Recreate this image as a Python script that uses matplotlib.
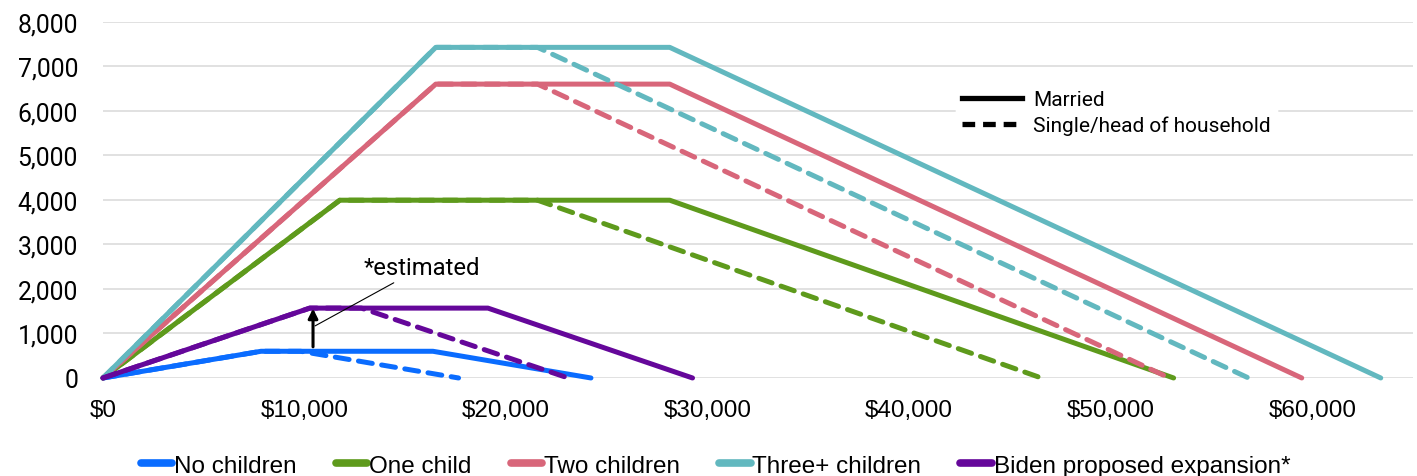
import matplotlib.pyplot as plt
from matplotlib.lines import Line2D
from matplotlib.ticker import FuncFormatter, MultipleLocator

# EITC schedules: (income, credit) breakpoints
nochild_married_x = [0, 7840, 16370, 24210]
nochild_married_y = [0, 600, 600, 0]
nochild_single_x = [0, 7840, 9800, 17640]
nochild_single_y = [0, 600, 600, 0]

one_married_x = [0, 11750, 28120, 53120]
one_married_y = [0, 3995, 3995, 0]
one_single_x = [0, 11750, 21560, 46560]
one_single_y = [0, 3995, 3995, 0]

two_married_x = [0, 16510, 28120, 59478]
two_married_y = [0, 6604, 6604, 0]
two_single_x = [0, 16510, 21560, 52918]
two_single_y = [0, 6604, 6604, 0]

three_married_x = [0, 16510, 28120, 63398]
three_married_y = [0, 7430, 7430, 0]
three_single_x = [0, 16510, 21560, 56838]
three_single_y = [0, 7430, 7430, 0]

biden_married_x = [0, 10260, 19100, 29250]
biden_married_y = [0, 1570, 1570, 0]
biden_single_x = [0, 10260, 12820, 23080]
biden_single_y = [0, 1570, 1570, 0]

labels = ['No children', 'One child', 'Two children', 'Three+ children',
          'Biden proposed expansion*']
colors = ['#0a6cff', '#5e9a1c', '#d8667a', '#62b8bf', '#65079a']

married = [(nochild_married_x, nochild_married_y), (one_married_x, one_married_y),
           (two_married_x, two_married_y), (three_married_x, three_married_y),
           (biden_married_x, biden_married_y)]
single = [(nochild_single_x, nochild_single_y), (one_single_x, one_single_y),
          (two_single_x, two_single_y), (three_single_x, three_single_y),
          (biden_single_x, biden_single_y)]

narrow = ['Liberation Sans Narrow', 'Liberation Sans', 'DejaVu Sans']
plain = ['Roboto', 'DejaVu Sans']

fig = plt.figure(figsize=(14.17, 4.77), dpi=100)
ax = fig.add_axes([0.0727, 0.2055, 0.9245, 0.7463])

lw = 3.6
for (mx, my), (sx, sy), c in zip(married, single, colors):
    ax.plot(sx, sy, color=c, lw=lw, ls=(0, (2.8, 1.9)), dash_capstyle='round',
            clip_on=False, zorder=3)
    ax.plot(mx, my, color=c, lw=lw, solid_capstyle='round', solid_joinstyle='round',
            clip_on=False, zorder=3)

ax.set_xlim(0, 65000)
ax.set_ylim(0, 8000)
ax.xaxis.set_major_locator(MultipleLocator(10000))
ax.yaxis.set_major_locator(MultipleLocator(1000))
ax.xaxis.set_major_formatter(FuncFormatter(lambda v, p: f'${v:,.0f}'))
ax.yaxis.set_major_formatter(FuncFormatter(lambda v, p: f'{v:,.0f}'))
ax.grid(axis='y', color='#d9d9d9', lw=1.1, zorder=0)
ax.set_axisbelow(True)
for s in ax.spines.values():
    s.set_visible(False)
ax.tick_params(length=0)
ax.tick_params(axis='x', pad=15)
ax.tick_params(axis='y', pad=18)
for t in ax.get_xticklabels():
    t.set_fontfamily(narrow)
    t.set_fontsize(17.5)
for t in ax.get_yticklabels():
    t.set_fontfamily(plain)
    t.set_fontsize(17.8)

# annotation for the estimated expansion
ax.annotate('', xy=(10420, 1560), xytext=(10420, 700),
            arrowprops=dict(arrowstyle='-|>', color='black', lw=2.2,
                            mutation_scale=14, shrinkA=0, shrinkB=0), zorder=5)
ax.annotate('*estimated', xy=(10520, 1170), xytext=(12950, 2490),
            fontsize=17.2, family=plain, va='center', ha='left',
            arrowprops=dict(arrowstyle='-', color='black', lw=0.8,
                            shrinkA=2, shrinkB=0), zorder=5)

# filing status legend
status = [Line2D([], [], color='black', lw=3.8),
          Line2D([], [], color='black', lw=3.8, ls=(0, (2.4, 1.5)))]
leg1 = ax.legend(status, ['Married', 'Single/head of household'],
                 loc='upper left', bbox_to_anchor=(0.643, 0.855),
                 frameon=True, fancybox=False, edgecolor='white', framealpha=1,
                 prop={'family': plain, 'size': 15}, handlelength=2.9,
                 handletextpad=0.5, labelspacing=0.3, borderpad=0.3)
ax.add_artist(leg1)

# family size legend
handles = [Line2D([], [], color=c, lw=5.5, solid_capstyle='round') for c in colors]
fig.legend(handles, labels, loc='center', bbox_to_anchor=(0.505, 0.022), ncol=5,
           frameon=False, prop={'family': narrow, 'size': 17.5}, handlelength=1.3,
           handletextpad=0.08, columnspacing=1.6)

fig.savefig('out.png', dpi=100)
